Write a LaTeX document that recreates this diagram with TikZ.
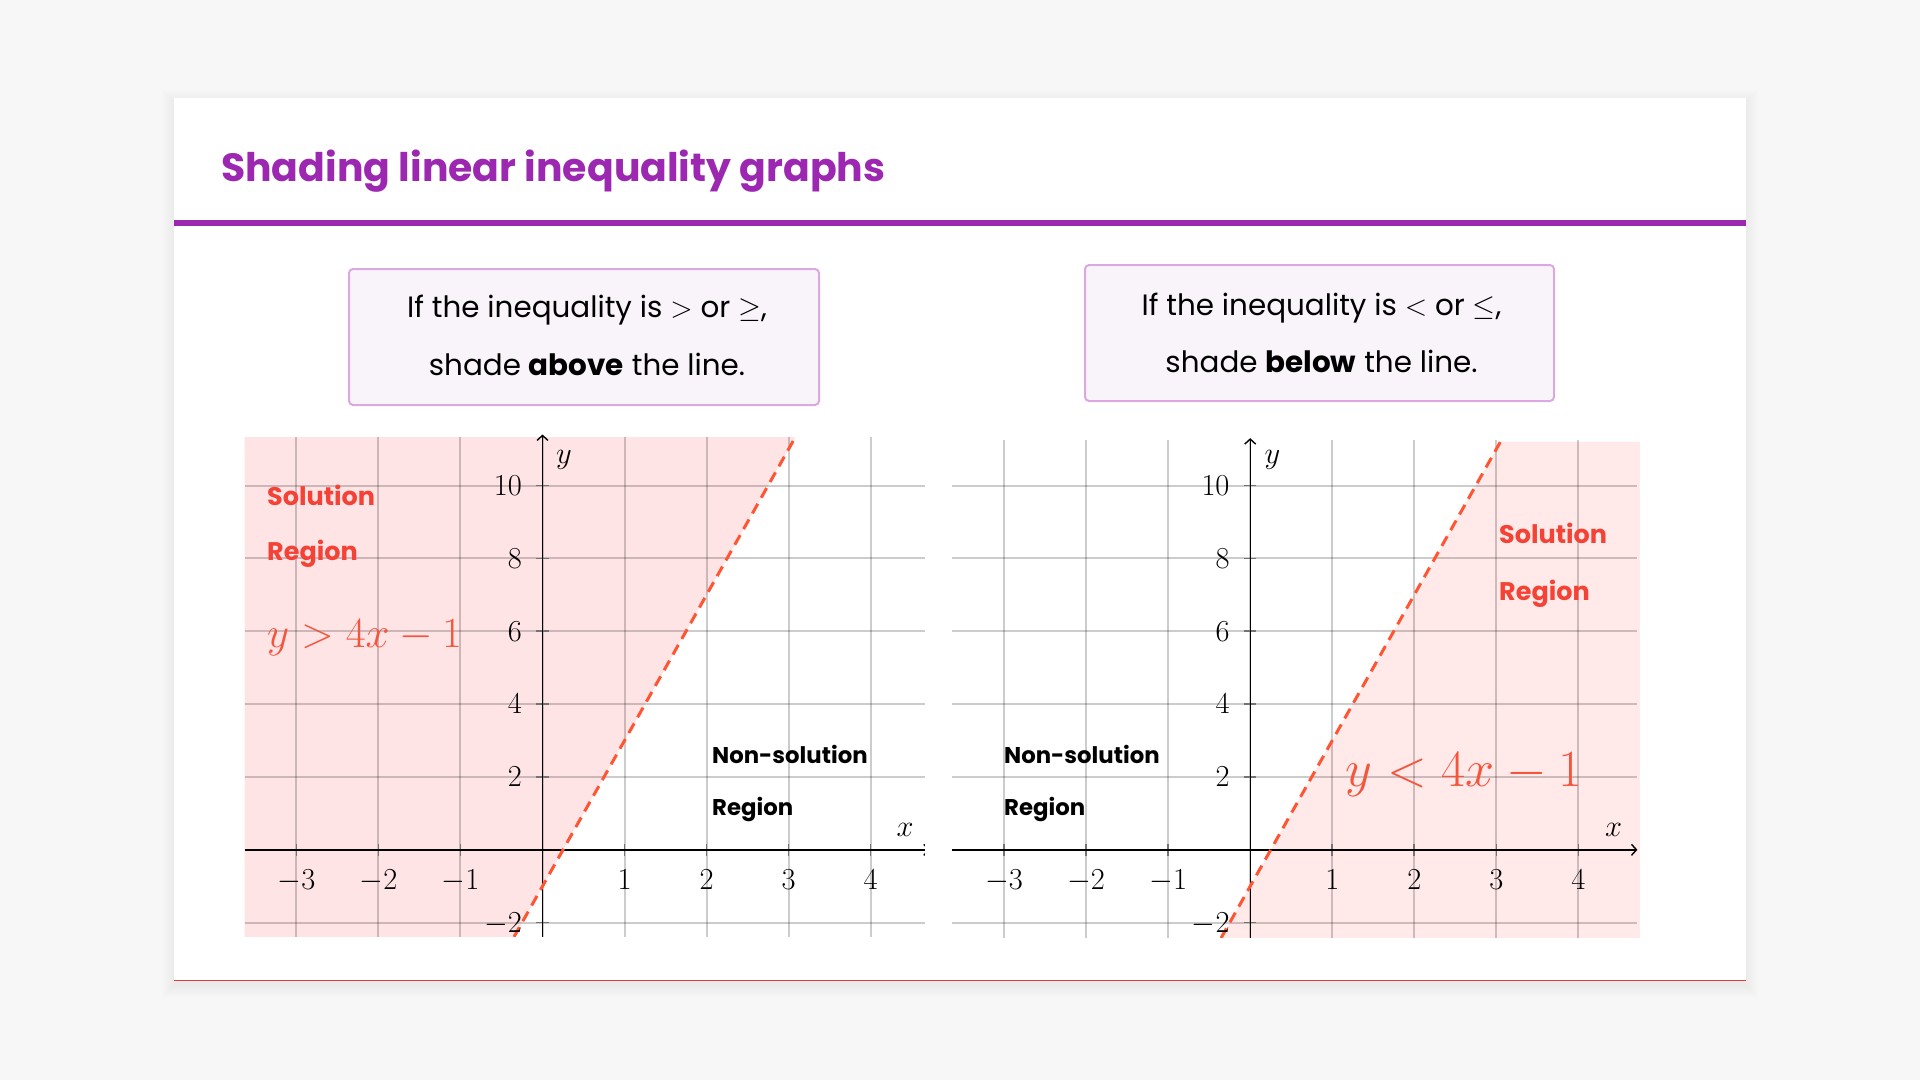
\RequirePackage{fix-cm}
\documentclass[tikz,border=0pt]{standalone}
\usepackage{fontspec}
\setmainfont{Poppins}
\usetikzlibrary{arrows.meta}
\definecolor{bgcol}{HTML}{F7F7F7}
\definecolor{ttlcol}{HTML}{9C27B0}
\definecolor{boxfill}{HTML}{F9F4FA}
\definecolor{boxdraw}{HTML}{DCA8E2}
\definecolor{solred}{HTML}{F44336}
\definecolor{eqred}{HTML}{F4553D}
\definecolor{dashred}{HTML}{FF5533}
\definecolor{pinkL}{HTML}{FFE4E6}
\definecolor{pinkR}{HTML}{FFEAE9}
\definecolor{cardline}{HTML}{E53935}
\tikzset{
  gridline/.style={black, opacity=0.2, line width=2pt},
  tickmark/.style={black!55, line width=1.6pt},
  axisline/.style={black, line width=1.4pt, -{Straight Barb[length=5pt,width=11pt]}},
  ineq/.style={dashred, line width=3pt, dash pattern=on 11pt off 7pt},
  ticklab/.style={font=\fontsize{30.5}{36}\selectfont, inner sep=0pt},
  region/.style={font=\fontsize{25.5}{30}\selectfont\bfseries, inner sep=0pt, anchor=base west},
  nonregion/.style={font=\fontsize{22.8}{28}\selectfont\bfseries, inner sep=0pt, anchor=base west},
  infobox/.style={draw=boxdraw, fill=boxfill, line width=2pt, rounded corners=4pt},
  infotext/.style={font=\fontsize{29.4}{36}\selectfont, inner sep=0pt, anchor=base},
}
\begin{document}
\begin{tikzpicture}[x=1pt,y=-1pt]
\useasboundingbox (0,0) rectangle (1920,1080);
\fill[bgcol] (0,0) rectangle (1920,1080);
% card shadow
\foreach \k in {1,...,12} {
  \fill[black, opacity=0.005] (174-\k,98-\k+4) rectangle (1746+\k,981+\k+4);
}
\fill[white] (174,98) rectangle (1746,981);
\draw[cardline, line width=1.3pt] (174,980.4) -- (1746,980.4);
% title
\node[anchor=base west, inner sep=0pt, text=ttlcol, font=\fontsize{39.4}{46}\selectfont\bfseries] (title) at (221,181) {Shading linear inequality graphs};
\fill[ttlcol] (174,220) rectangle (1746,226);
% info boxes
\draw[infobox] (349,269) rectangle (819,405);
\node[infotext] (b1l1) at (587,317) {If the inequality is $>$ or $\geq$,};
\node[infotext] (b1l2) at (587,375) {shade \textbf{above} the line.};
\draw[infobox] (1085,265) rectangle (1554,401);
\node[infotext] (b2l1) at (1321.5,315) {If the inequality is $<$ or $\leq$,};
\node[infotext] (b2l2) at (1321.5,372) {shade \textbf{below} the line.};

% ---------- left plot ----------
\begin{scope}[shift={(542.5,849.8)}, x=82.04pt, y=36.43pt]
  \fill[pinkL] (-3.63,11.33) -- (3.0825,11.33) -- (-0.3475,-2.39) -- (-3.63,-2.39) -- cycle;
  \foreach \i in {-3,...,4} \draw[gridline] (\i,-2.39) -- (\i,11.33);
  \foreach \j in {-2,2,4,6,8,10} \draw[gridline] (-3.63,\j) -- (4.66,\j);
  \foreach \i in {-3,-2,-1,1,2,3,4} \draw[tickmark] (\i,-0.17) -- (\i,0.17);
  \foreach \j in {-2,2,4,6,8,10} \draw[tickmark] (-0.075,\j) -- (0.075,\j);
  \begin{scope}
    \clip (-3.7,-2.39) rectangle (4.66,11.6);
    \draw[axisline] (-3.63,0) -- (4.72,0);
    \draw[axisline] (0,-2.39) -- (0,11.4);
    \draw[ineq] (-0.3475,-2.39) -- (3.0825,11.33);
  \end{scope}
  \foreach \i in {-3,-2,-1,1,2,3,4} \node[ticklab, anchor=base] (lx\i) at (\i,-1.10) {$\i$};
  \foreach \j in {-2,2,4,6,8,10} \node[ticklab, anchor=base east, yshift=-9.8pt] (ly\j) at (-0.25,\j) {$\j$};
  \node[ticklab] (lxlab) at (4.42,0.54) {$x$};
  \node[ticklab] (lylab) at (0.26,10.7) {$y$};
\end{scope}
\node[region, text=solred] (ls1) at (267,505) {Solution};
\node[region, text=solred] (ls2) at (267,560.7) {Region};
\node[nonregion, text=black] (ln1) at (712,763) {Non-solution};
\node[nonregion, text=black] (ln2) at (712,815) {Region};
\node[inner sep=0pt, anchor=base west, text=eqred, font=\fontsize{43}{50}\selectfont] (leq) at (267,647.3) {$y>4x-1$};

% ---------- right plot ----------
\begin{scope}[shift={(1250.2,849.8)}, x=82.04pt, y=36.43pt]
  \fill[pinkR] (3.05,11.2) -- (4.75,11.2) -- (4.75,-2.42) -- (-0.355,-2.42) -- cycle;
  \foreach \i in {-3,...,4} \draw[gridline] (\i,-2.42) -- (\i,11.25);
  \foreach \j in {-2,2,4,6,8,10} \draw[gridline] (-3.64,\j) -- (4.71,\j);
  \foreach \i in {-3,-2,-1,1,2,3,4} \draw[tickmark] (\i,-0.17) -- (\i,0.17);
  \foreach \j in {-2,2,4,6,8,10} \draw[tickmark] (-0.075,\j) -- (0.075,\j);
  \draw[axisline] (-3.64,0) -- (4.72,0);
  \draw[axisline] (0,-2.42) -- (0,11.3);
  \begin{scope}
    \clip (-3.7,-2.42) rectangle (4.8,11.25);
    \draw[ineq] (-0.355,-2.42) -- (3.0825,11.33);
  \end{scope}
  \foreach \i in {-3,-2,-1,1,2,3,4} \node[ticklab, anchor=base] (rx\i) at (\i,-1.10) {$\i$};
  \foreach \j in {-2,2,4,6,8,10} \node[ticklab, anchor=base east, yshift=-9.8pt] (ry\j) at (-0.25,\j) {$\j$};
  \node[ticklab] (rxlab) at (4.43,0.54) {$x$};
  \node[ticklab] (rylab) at (0.27,10.7) {$y$};
\end{scope}
\node[region, text=solred] (rs1) at (1499,543) {Solution};
\node[region, text=solred] (rs2) at (1499,600) {Region};
\node[nonregion, text=black] (rn1) at (1004,763) {Non-solution};
\node[nonregion, text=black] (rn2) at (1004,815) {Region};
\node[inner sep=0pt, anchor=base west, text=eqred, font=\fontsize{52.2}{60}\selectfont] (req) at (1345.7,786.7) {$y<4x-1$};
\end{tikzpicture}
\end{document}
